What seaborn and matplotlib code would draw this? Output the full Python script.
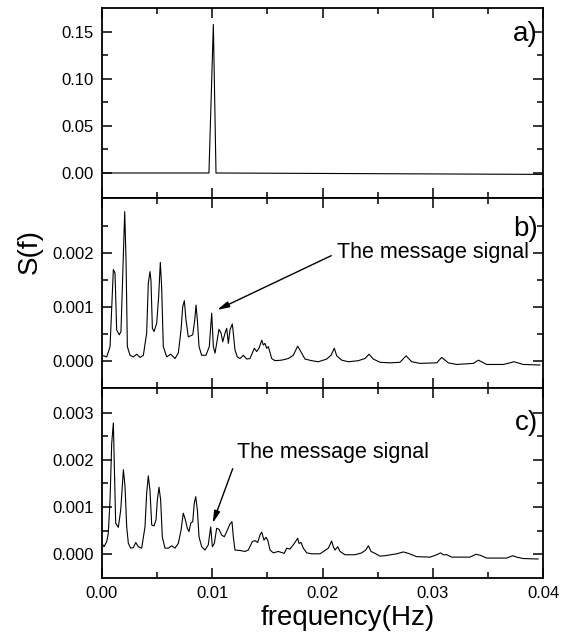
import matplotlib
matplotlib.use("Agg")
import matplotlib.pyplot as plt
from matplotlib.ticker import MultipleLocator, FixedLocator, FormatStrFormatter
import seaborn as sns

sns.set_style("ticks")
plt.rcParams['font.family'] = ['Liberation Sans', 'DejaVu Sans']
plt.rcParams['text.color'] = 'black'
plt.rcParams['axes.labelcolor'] = 'black'
plt.rcParams['xtick.color'] = 'black'
plt.rcParams['ytick.color'] = 'black'

# ---------------- data ----------------
freq_a = [0.0, 0.0097, 0.0101, 0.01034, 0.04]
s_a = [0.0, 0.0, 0.158, 0.0, -0.0015]

freq_b = [0.0, 0.00043, 0.00073, 0.00103, 0.00118, 0.00133, 0.00157, 0.00172, 0.00206, 0.00218,
          0.00230, 0.00254, 0.00284, 0.00315, 0.00345, 0.00375, 0.00405, 0.00420, 0.00435, 0.00444,
          0.00457, 0.00472, 0.00496, 0.00514, 0.00529, 0.00541, 0.00556, 0.00587, 0.00623, 0.00662,
          0.00692, 0.00717, 0.00732, 0.00747, 0.00762, 0.00783, 0.00823, 0.00841, 0.00853, 0.00865,
          0.00880, 0.00904, 0.00943, 0.00973, 0.00995, 0.01010, 0.01025, 0.01040, 0.01061, 0.01080,
          0.01095, 0.01116, 0.01131, 0.01146, 0.01161, 0.01182, 0.01191, 0.01206, 0.01227, 0.01252,
          0.01282, 0.01313, 0.01342, 0.01382, 0.01403, 0.01424, 0.01449, 0.01463, 0.01478, 0.01494,
          0.01509, 0.01539, 0.01569, 0.01630, 0.01690, 0.01735, 0.01775, 0.01811, 0.01841, 0.01902,
          0.01962, 0.02038, 0.02077, 0.02107, 0.02129, 0.02174, 0.02234, 0.02325, 0.02385, 0.02422,
          0.02461, 0.02522, 0.02612, 0.02703, 0.02758, 0.02809, 0.02884, 0.03036, 0.03081, 0.03141,
          0.03217, 0.03368, 0.03414, 0.03489, 0.03640, 0.03700, 0.03737, 0.03821, 0.03973]
s_b = [0.00010, 0.00007, 0.00026, 0.00169, 0.00162, 0.00057, 0.00048, 0.00054, 0.00276, 0.00186,
       0.00026, 0.00010, 0.00007, 0.00012, 0.00006, 0.00010, 0.00051, 0.00143, 0.00165, 0.00149,
       0.00060, 0.00054, 0.00069, 0.00119, 0.00182, 0.00137, 0.00026, 0.00007, 0.00012, 0.00004,
       0.00014, 0.00057, 0.00100, 0.00111, 0.00075, 0.00044, 0.00048, 0.00075, 0.00103, 0.00075,
       0.00026, 0.00010, 0.00010, 0.00026, 0.00088, 0.00026, 0.00014, 0.00032, 0.00058, 0.00051,
       0.00035, 0.00051, 0.00060, 0.00032, 0.00057, 0.00068, 0.00051, 0.00020, 0.00007, 0.00004,
       0.00010, 0.00003, 0.00004, 0.00023, 0.00017, 0.00023, 0.00038, 0.00029, 0.00032, 0.00023,
       0.00026, 0.00004, 0.00000, 0.00001, 0.00004, 0.00010, 0.00027, 0.00014, 0.00003, 0.00000,
       -0.00002, 0.00003, 0.00010, 0.00023, 0.00009, 0.00001, -0.00002, 0.00000, 0.00004, 0.00012,
       0.00003, -0.00003, -0.00004, -0.00003, 0.00009, -0.00002, -0.00005, -0.00004, 0.00006, -0.00004,
       -0.00007, -0.00005, 0.00001, -0.00007, -0.00007, -0.00004, -0.00002, -0.00007, -0.00008]

freq_c = [0.0, 0.00018, 0.00043, 0.00057, 0.00073, 0.00088, 0.00103, 0.00112, 0.00124, 0.00148,
          0.00170, 0.00194, 0.00209, 0.00224, 0.00239, 0.00260, 0.00284, 0.00306, 0.00329, 0.00360,
          0.00390, 0.00405, 0.00420, 0.00435, 0.00451, 0.00472, 0.00490, 0.00502, 0.00517, 0.00532,
          0.00547, 0.00571, 0.00602, 0.00632, 0.00662, 0.00692, 0.00717, 0.00737, 0.00753, 0.00774,
          0.00789, 0.00805, 0.00823, 0.00837, 0.00850, 0.00865, 0.00880, 0.00904, 0.00934, 0.00964,
          0.00986, 0.01001, 0.01019, 0.01040, 0.01061, 0.01085, 0.01109, 0.01131, 0.01161, 0.01179,
          0.01191, 0.01206, 0.01252, 0.01297, 0.01327, 0.01364, 0.01388, 0.01412, 0.01433, 0.01449,
          0.01469, 0.01488, 0.01503, 0.01524, 0.01554, 0.01599, 0.01653, 0.01675, 0.01705, 0.01735,
          0.01756, 0.01775, 0.01787, 0.01805, 0.01826, 0.01857, 0.01902, 0.01977, 0.02023, 0.02053,
          0.02083, 0.02098, 0.02113, 0.02138, 0.02159, 0.02204, 0.02295, 0.02356, 0.02392, 0.02416,
          0.02440, 0.02476, 0.02522, 0.02567, 0.02673, 0.02733, 0.02778, 0.02854, 0.02975, 0.03036,
          0.03072, 0.03096, 0.03127, 0.03172, 0.03338, 0.03392, 0.03429, 0.03489, 0.03671, 0.03725,
          0.03761, 0.03821, 0.03957]
s_c = [0.00023, 0.00016, 0.00027, 0.00044, 0.00115, 0.00235, 0.00278, 0.00186, 0.00066, 0.00057,
       0.00094, 0.00179, 0.00143, 0.00058, 0.00023, 0.00013, 0.00014, 0.00025, 0.00016, 0.00013,
       0.00058, 0.00129, 0.00166, 0.00136, 0.00062, 0.00060, 0.00073, 0.00115, 0.00142, 0.00115,
       0.00037, 0.00013, 0.00013, 0.00018, 0.00013, 0.00023, 0.00051, 0.00087, 0.00076, 0.00055,
       0.00048, 0.00066, 0.00069, 0.00108, 0.00122, 0.00094, 0.00037, 0.00016, 0.00009, 0.00020,
       0.00058, 0.00016, 0.00023, 0.00055, 0.00053, 0.00041, 0.00037, 0.00048, 0.00064, 0.00069,
       0.00037, 0.00009, 0.00008, 0.00006, 0.00009, 0.00027, 0.00029, 0.00025, 0.00041, 0.00047,
       0.00030, 0.00036, 0.00030, 0.00009, 0.00003, 0.00006, 0.00002, 0.00013, 0.00011, 0.00020,
       0.00027, 0.00034, 0.00023, 0.00025, 0.00013, 0.00003, 0.00001, 0.00001, 0.00008, 0.00013,
       0.00028, 0.00016, 0.00009, 0.00016, 0.00006, -0.00001, -0.00001, 0.00003, 0.00009, 0.00018,
       0.00006, 0.00002, -0.00004, -0.00003, 0.00001, 0.00005, 0.00002, -0.00005, -0.00006, -0.00001,
       0.00003, -0.00001, -0.00001, -0.00006, -0.00006, 0.00000, -0.00002, -0.00008, -0.00008, -0.00003,
       -0.00006, -0.00009, -0.00010]

panel_labels = ["a)", "b)", "c)"]
xticks = [0.0, 0.01, 0.02, 0.03, 0.04]
annot_text = "The message signal"
arrow_b = (0.01043, 0.00094)
arrow_c = (0.01004, 0.00066)

# ---------------- figure ----------------
W, H = 570, 641
fig = plt.figure(figsize=(W / 100, H / 100), dpi=100)

left, right = 102 / W, 543 / W
tops = [8, 198, 388]
ph = 190

axes = []
for t in tops:
    ax = fig.add_axes([left, 1 - (t + ph) / H, right - left, ph / H])
    axes.append(ax)

series = [(freq_a, s_a), (freq_b, s_b), (freq_c, s_c)]
ylims = [(-0.0266, 0.1755), (-0.000506, 0.003013), (-0.000502, 0.00352)]
ymaj = [[0.0, 0.05, 0.10, 0.15], [0.0, 0.001, 0.002], [0.0, 0.001, 0.002, 0.003]]
ymin = [[0.025, 0.075, 0.125], [0.0005, 0.0015, 0.0025], [0.0005, 0.0015, 0.0025]]
yfmt = ["%.2f", "%.3f", "%.3f"]
label_y = [0.863, 0.837, 0.816]

for i, ax in enumerate(axes):
    fx, sy = series[i]
    sns.lineplot(x=fx, y=sy, ax=ax, color="black", linewidth=0.8,
                 sort=False, estimator=None)
    ax.set_xlim(0.0, 0.04)
    ax.set_ylim(*ylims[i])
    ax.xaxis.set_major_locator(FixedLocator(xticks))
    ax.xaxis.set_minor_locator(MultipleLocator(0.005))
    ax.yaxis.set_major_locator(FixedLocator(ymaj[i]))
    ax.yaxis.set_minor_locator(FixedLocator(ymin[i]))
    ax.yaxis.set_major_formatter(FormatStrFormatter(yfmt[i]))
    ax.xaxis.set_major_formatter(FormatStrFormatter("%.2f"))
    ax.tick_params(which="both", direction="in", top=True, right=True,
                   width=1.1, colors="black", labelsize=12, pad=6)
    ax.tick_params(which="major", length=7)
    ax.tick_params(which="minor", length=4)
    for sp in ax.spines.values():
        sp.set_linewidth(1.3)
        sp.set_color("black")
    if i < 2:
        ax.tick_params(labelbottom=False)
    ax.set_xlabel("")
    ax.set_ylabel("")
    ax.text(0.9887, label_y[i], panel_labels[i], transform=ax.transAxes,
            ha="right", va="center", fontsize=20, color="black")

arrow_kw = dict(arrowstyle="-|>,head_length=0.6,head_width=0.15",
                color="black", lw=1.0, mutation_scale=12, shrinkA=2, shrinkB=0)

axes[1].annotate(annot_text, xy=arrow_b, xycoords="data",
                 xytext=(0.533, 0.711), textcoords="axes fraction",
                 ha="left", va="center", fontsize=15.5, color="black",
                 arrowprops=dict(relpos=(0.0, 0.5), **arrow_kw))
axes[2].annotate(annot_text, xy=arrow_c, xycoords="data",
                 xytext=(0.306, 0.658), textcoords="axes fraction",
                 ha="left", va="center", fontsize=15.5, color="black",
                 arrowprops=dict(relpos=(0.0, 0.3), **arrow_kw))

fig.text(347.5 / W, 1 - 618 / H, "frequency(Hz)", ha="center", va="center",
         fontsize=20, color="black")
fig.text(30 / W, 1 - 252 / H, "S(f)", ha="center", va="center", rotation=90,
         fontsize=20, color="black")

fig.savefig("out.png", dpi=100, facecolor="white")
